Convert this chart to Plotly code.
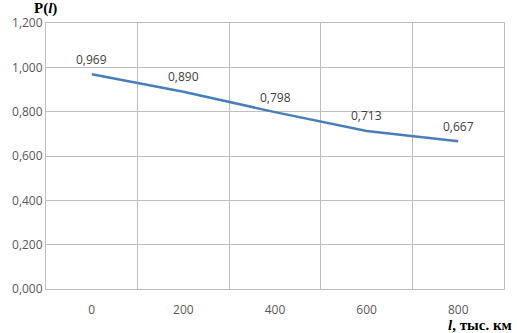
import plotly.graph_objects as go

categories = ["0", "200", "400", "600", "800"]
values = [0.969, 0.890, 0.798, 0.713, 0.667]
value_labels = ["0,969", "0,890", "0,798", "0,713", "0,667"]

fig = go.Figure()
fig.add_trace(go.Scatter(
    x=categories, y=values, mode="lines",
    line=dict(color="#4A7EBB", width=2.5),
    showlegend=False,
))

label_font = dict(family="Open Sans, Liberation Sans, sans-serif", size=12, color="#404040")
annotations = [
    dict(x=i, y=v, text=t, xref="x", yref="y", showarrow=False,
         yanchor="middle", yshift=15, font=label_font)
    for i, (v, t) in enumerate(zip(values, value_labels))
]

grid = "#BFBFBF"
annotations += [
    dict(text="<b>P(<i>l</i>)</b>", xref="paper", yref="paper",
         x=-0.03, y=1.0, xanchor="left", yanchor="middle", yshift=15, showarrow=False,
         font=dict(family="Liberation Serif, serif", size=15, color="#000000")),
    dict(text="<b><i>l</i>, тыс. км</b>", xref="paper", yref="paper",
         x=1.022, y=0, xanchor="right", yanchor="middle", yshift=-36, showarrow=False,
         font=dict(family="Liberation Serif, serif", size=15, color="#000000")),
]

fig.update_layout(
    width=517, height=333,
    margin=dict(l=43, r=13, t=23, b=44),
    paper_bgcolor="white", plot_bgcolor="white",
    separators=", ",
    xaxis=dict(
        type="category", range=[-0.5, 4.5], tickson="boundaries",
        showgrid=True, gridcolor=grid, gridwidth=1,
        showline=True, linecolor=grid, linewidth=1, mirror=True,
        ticks="", ticklen=0, ticklabelstandoff=10,
        tickfont=dict(family="Open Sans, Liberation Sans, sans-serif", size=12, color="#595959"),
        fixedrange=True,
    ),
    yaxis=dict(
        range=[0, 1.2], dtick=0.2, tick0=0, tickformat=".3f",
        showgrid=True, gridcolor=grid, gridwidth=1,
        showline=True, linecolor=grid, linewidth=1, mirror=True,
        zeroline=False, ticks="",
        tickfont=dict(family="Open Sans, Liberation Sans, sans-serif", size=12, color="#595959"),
        fixedrange=True,
    ),
    annotations=annotations,
)

fig.write_html("out.html")
